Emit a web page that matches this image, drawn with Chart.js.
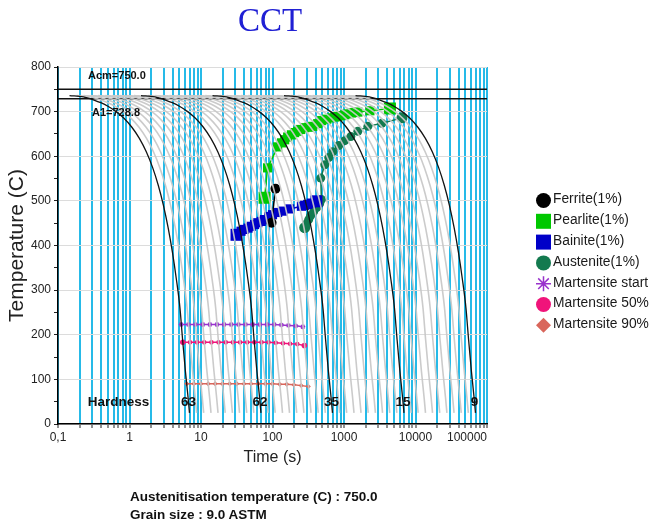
<!DOCTYPE html>
<html>
<head>
<meta charset="utf-8">
<script src="https://cdn.jsdelivr.net/npm/chart.js@4.4.1/dist/chart.umd.min.js"></script>
<style>
  body { margin: 0; background: #fff; }
  #wrap { position: relative; width: 650px; height: 523px; }
  #title { position: absolute; left: 0; width: 540px; top: 3px; text-align: center;
           font: 33px "Liberation Serif", "Times New Roman", serif; color: #2020d4; line-height: 34px; }
  .foot { position: absolute; left: 130px; font: bold 13.5px "Liberation Sans", Arial, sans-serif;
          color: #111; line-height: 16px; }
</style>
</head>
<body>
<div id="wrap">
  <canvas id="cct" width="650" height="523"></canvas>
  <div id="title">CCT</div>
  <div class="foot" style="top:489px">Austenitisation temperature (C) : 750.0</div>
  <div class="foot" style="top:507px">Grain size : 9.0 ASTM</div>
</div>
<script>
const FONT = '"Liberation Sans", Arial, sans-serif';

const acm = 750.0;
const a1 = 728.8;

// time (s) at which each cooling path reaches room temperature, fastest first
const pathEndTimes = [
  6.9, 8.69, 10.9, 13.8, 17.3, 21.8, 27.5, 34.6, 43.6, 54.8,
  69, 86.9, 109, 138, 173, 218, 275, 346, 436, 548,
  690, 869, 1090, 1380, 1730, 2180, 2750, 3460, 4360, 5480,
  6900, 8690, 10900, 13800, 17300, 21800, 27500, 34600, 43600, 54800,
  69000
];
// shape shared by every path: temperature and fraction of the path's end time
const pathTemps = [736, 733, 730, 726, 720, 712, 700, 685, 665, 640, 610, 575,
  535, 490, 440, 385, 325, 260, 190, 120, 60, 25];
const pathFractions = [0.021, 0.0329, 0.0386, 0.0462, 0.0575, 0.0723, 0.0943, 0.1213,
  0.1565, 0.1992, 0.2488, 0.3046, 0.3659, 0.4322, 0.5027, 0.5772, 0.655, 0.7358,
  0.80, 0.875, 0.955, 1.0];

// paths drawn in black, with their hardness
const hardnessPaths = [0, 10, 20, 30, 40];
const hardnessValues = [63, 62, 35, 15, 9];

// transformation curves (time s, temperature C)
const ferriteTime = [110, 97];
const ferriteTemp = [527, 451];

const pearliteTime = [77.5, 85.3, 118, 134, 148, 163, 184, 204, 225, 248, 282, 321, 365,
  429, 488, 574, 668, 743, 819, 917, 1026, 1130, 1274, 1419, 1562, 2303, 4390];
const pearliteTemp = [507, 574, 621, 630, 637, 643, 648, 653, 656, 660, 664, 665, 667,
  673, 680, 683, 686, 688, 689, 691, 693, 695, 697, 698, 699, 702, 707];

const bainiteTime = [31.4, 36.3, 40.6, 45.5, 50.5, 56.1, 62.4, 69.6, 77.5, 88.1, 100,
  118, 139, 174, 254, 282, 311, 349, 411];
const bainiteTemp = [424, 432, 436, 439, 443, 447, 451, 454, 458, 465, 469,
  474, 477, 482, 488, 490, 492, 495, 499];

const austeniteTime = [282, 301, 321, 342, 377, 415, 458, 483, 473, 538, 612, 697,
  845, 1026, 1245, 1562, 2158, 3390, 6470];
const austeniteTemp = [440, 449, 458, 467, 476, 485, 494, 503, 551, 581, 597, 610,
  624, 635, 644, 656, 667, 674, 686];

const msTime = [5.29, 6.66, 8.35, 10.6, 13.3, 16.7, 21, 26.5, 33.4, 42, 52.9, 66.6, 83.5, 106, 133, 167, 211, 265];
const msTemp = [223, 223, 223, 223, 223, 223, 223, 223, 223, 223, 223, 223, 223, 223, 222, 221, 220, 218];
const m50Time = [5.57, 7.02, 8.8, 11.1, 14, 17.6, 22.2, 27.9, 35.2, 44.3, 55.7, 70.2, 88, 111, 140, 176, 222, 279];
const m50Temp = [183, 183, 183, 183, 183, 183, 183, 183, 183, 183, 183, 183, 183, 182, 181, 180, 179, 176];
const m90Time = [6.31, 7.95, 9.97, 12.6, 15.8, 19.9, 25.2, 31.7, 39.9, 50.1, 63.1, 79.5, 99.7, 126, 158, 199, 252, 317];
const m90Temp = [90, 90, 90, 90, 90, 90, 90, 90, 90, 90, 90, 90, 90, 89, 89, 88, 86, 84];

// axis ticks
const timeDecades = [0.1, 1, 10, 100, 1000, 10000, 100000];
const timeLabels = ['0,1', '1', '10', '100', '1000', '10000', '100000'];
const tempTicks = [0, 50, 100, 150, 200, 250, 300, 350, 400, 450, 500, 550, 600, 650, 700, 750, 800];

const gridTimes = [];
timeDecades.slice(0, -1).forEach(d => {
  for (let m = 1; m <= 9; m++) gridTimes.push(d * m);
});
gridTimes.push(100000);

function pts(xs, ys) {
  return xs.map((x, i) => ({ x: x, y: ys[i] }));
}

function coolingPath(endTime) {
  return pathTemps.map((T, i) => ({ x: endTime * pathFractions[i], y: T }));
}

const phases = [
  { label: 'Ferrite(1%)', t: ferriteTime, T: ferriteTemp, color: '#000000', style: 'circle', r: 5, big: 5 },
  { label: 'Pearlite(1%)', t: pearliteTime, T: pearliteTemp, color: '#00c800', style: 'rect', r: 6.5, big: 8.5 },
  { label: 'Bainite(1%)', t: bainiteTime, T: bainiteTemp, color: '#0000c8', style: 'rect', r: 6.5, big: 8.5 },
  { label: 'Austenite(1%)', t: austeniteTime, T: austeniteTemp, color: '#137a4f', style: 'circle', r: 4.5, big: 5.5 },
  { label: 'Martensite start', t: msTime, T: msTemp, color: '#9932cc', style: 'star', r: 2.5, big: 2.5 },
  { label: 'Martensite 50%', t: m50Time, T: m50Temp, color: '#f0147a', style: 'circle', r: 2.3, big: 2.8 },
  { label: 'Martensite 90%', t: m90Time, T: m90Temp, color: '#d9665b', style: 'rectRot', r: 2.5, big: 2.5 }
];

const datasets = [];

pathEndTimes.forEach((end, i) => {
  const hard = hardnessPaths.indexOf(i) >= 0;
  datasets.push({
    data: coolingPath(end),
    borderColor: hard ? '#141414' : 'rgba(200,200,200,0.95)',
    borderWidth: hard ? 1.3 : 1.6,
    pointRadius: 0,
    cubicInterpolationMode: 'monotone',
    order: hard ? 0 : 1
  });
});

phases.forEach(p => {
  const n = p.t.length;
  datasets.push({
    label: p.label,
    data: pts(p.t, p.T),
    borderColor: p.color,
    borderWidth: 1.5,
    pointStyle: p.style,
    pointRadius: c => (c.dataIndex === 0 || c.dataIndex === n - 1) ? p.big : p.r,
    pointBackgroundColor: p.color,
    pointBorderColor: p.color,
    pointBorderWidth: p.style === 'star' ? 1.2 : 0,
    order: 2
  });
});

[acm, a1].forEach(T => {
  datasets.push({
    data: [{ x: 0.1, y: T }, { x: 100000, y: T }],
    borderColor: '#111',
    borderWidth: 1.5,
    pointRadius: 0,
    order: 3
  });
});

function drawMarker(ctx, style, cx, cy, r, color) {
  ctx.fillStyle = color;
  ctx.strokeStyle = color;
  ctx.lineWidth = 1.5;
  ctx.beginPath();
  if (style === 'circle') {
    ctx.arc(cx, cy, r, 0, Math.PI * 2);
    ctx.fill();
  } else if (style === 'rect') {
    ctx.rect(cx - r, cy - r, 2 * r, 2 * r);
    ctx.fill();
  } else if (style === 'rectRot') {
    ctx.moveTo(cx - r, cy);
    ctx.lineTo(cx, cy - r);
    ctx.lineTo(cx + r, cy);
    ctx.lineTo(cx, cy + r);
    ctx.closePath();
    ctx.fill();
  } else if (style === 'star') {
    for (let k = 0; k < 4; k++) {
      const a = k * Math.PI / 4;
      ctx.moveTo(cx - Math.cos(a) * r, cy - Math.sin(a) * r);
      ctx.lineTo(cx + Math.cos(a) * r, cy + Math.sin(a) * r);
    }
    ctx.stroke();
  }
}

const decorations = {
  id: 'decorations',
  afterDraw(chart) {
    const ctx = chart.ctx;
    const area = chart.chartArea;
    const x = chart.scales.x;
    const y = chart.scales.y;
    ctx.save();

    // time labels, the last one kept inside the plot
    ctx.font = '12px ' + FONT;
    ctx.fillStyle = '#222';
    ctx.textAlign = 'center';
    ctx.textBaseline = 'middle';
    timeDecades.forEach((v, i) => {
      const w = ctx.measureText(timeLabels[i]).width;
      const px = Math.min(x.getPixelForValue(v), area.right - w / 2);
      ctx.fillText(timeLabels[i], px, area.bottom + 14);
    });

    // critical temperatures
    ctx.font = 'bold 11px ' + FONT;
    ctx.fillStyle = '#111';
    ctx.textAlign = 'left';
    ctx.fillText('Acm=' + acm.toFixed(1), area.left + 30, y.getPixelForValue(acm) - 13);
    ctx.fillText('A1=' + a1.toFixed(1), area.left + 34, y.getPixelForValue(a1) + 14);

    // hardness at the end of the black paths
    ctx.font = 'bold 13.5px ' + FONT;
    ctx.textAlign = 'center';
    const hy = y.getPixelForValue(48);
    ctx.fillText('Hardness', area.left + 60.5, hy);
    hardnessPaths.forEach((p, i) => {
      ctx.fillText(String(hardnessValues[i]), x.getPixelForValue(pathEndTimes[p]) - 1, hy);
    });

    // legend
    ctx.font = '13.8px ' + FONT;
    ctx.textAlign = 'left';
    phases.forEach((p, i) => {
      const cy = 200.5 + i * 20.8;
      drawMarker(ctx, p.style, 543.5, cy, 7.5, p.color);
      ctx.fillStyle = '#1a1a1a';
      ctx.fillText(p.label, 553, cy - 1);
    });

    ctx.restore();
  }
};

new Chart(document.getElementById('cct').getContext('2d'), {
  type: 'line',
  data: { datasets: datasets },
  plugins: [decorations],
  options: {
    responsive: false,
    animation: false,
    events: [],
    layout: { padding: { left: 0, right: 163, top: 67, bottom: 48 } },
    plugins: {
      legend: { display: false },
      tooltip: { enabled: false },
      title: { display: false }
    },
    scales: {
      x: {
        type: 'logarithmic',
        min: 0.1,
        max: 100000,
        afterBuildTicks: s => { s.ticks = gridTimes.map(v => ({ value: v })); },
        afterFit: s => { s.height = 51; },
        ticks: { display: false, autoSkip: false },
        grid: { color: 'rgb(38,186,232)', lineWidth: 2, tickColor: '#222', tickLength: 4, tickWidth: 1 },
        border: { color: '#000', width: 1.5 },
        title: {
          display: true, text: 'Time (s)', color: '#222',
          font: { family: FONT, size: 16 }, padding: { top: 0, bottom: 8 }
        }
      },
      y: {
        min: 0,
        max: 800,
        afterBuildTicks: s => { s.ticks = tempTicks.map(v => ({ value: v })); },
        afterFit: s => { s.width = 58; },
        ticks: {
          autoSkip: false,
          padding: 3,
          color: '#222',
          font: { family: FONT, size: 12 },
          callback: v => (v % 100 === 0 ? String(v) : '')
        },
        grid: {
          color: c => (c.tick && c.tick.value % 100 === 0 ? '#dcdcdc' : 'rgba(0,0,0,0)'),
          tickColor: '#222',
          tickLength: 4
        },
        border: { color: '#000', width: 1.5 },
        title: {
          display: true, text: 'Temperature (C)', color: '#222',
          font: { family: FONT, size: 21 }, padding: { top: 5, bottom: 0 }
        }
      }
    }
  }
});
</script>
</body>
</html>
